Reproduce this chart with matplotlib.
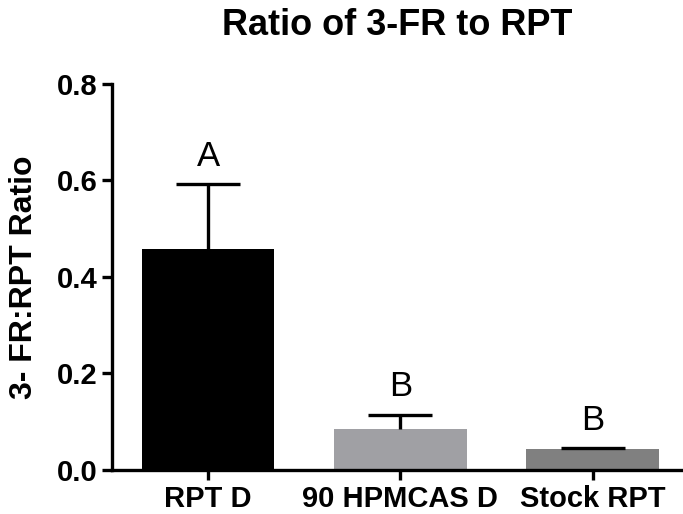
import matplotlib
matplotlib.use("Agg")
import matplotlib.pyplot as plt

plt.rcParams['font.family'] = ['Liberation Sans', 'DejaVu Sans']

# 数据
groups = ['RPT D', '90 HPMCAS D', 'Stock RPT']
ratio = [0.459, 0.085, 0.044]
err_up = [0.134, 0.030, 0.002]
letters = ['A', 'B', 'B']
colors = ['#000000', '#a0a0a4', '#808080']
y_ticks = [0.0, 0.2, 0.4, 0.6, 0.8]

fig = plt.figure(figsize=(6.83, 5.14), dpi=100)
ax = fig.add_axes([0.164, 0.0856, 0.836, 0.751])

x = list(range(len(groups)))
ax.bar(x, ratio, width=0.69, color=colors, edgecolor='none', zorder=2)
_, caps, _ = ax.errorbar(x, ratio, yerr=[[0] * len(err_up), err_up], fmt='none',
                         ecolor='black', elinewidth=2.4, capsize=23, capthick=2.4, zorder=3)
# 只保留上方的横线
caps[0].set_visible(False)

for xi, v, e, lab in zip(x, ratio, err_up, letters):
    ax.annotate(lab, (xi, v + e), xytext=(0, 8), textcoords='offset points',
                ha='center', va='bottom', fontsize=25)

ax.set_xlim(-0.5, 2.47)
ax.set_ylim(0, 0.8)
ax.set_yticks(y_ticks)
ax.set_yticklabels([f'{t:.1f}' for t in y_ticks], fontsize=21, fontweight='bold')
ax.set_xticks(x)
ax.set_xticklabels(groups, fontsize=21, fontweight='bold')
ax.set_ylabel('3- FR:RPT Ratio', fontsize=23, fontweight='bold', labelpad=13)
ax.set_title('Ratio of 3-FR to RPT', fontsize=26, fontweight='bold', pad=35)

for s in ['top', 'right']:
    ax.spines[s].set_visible(False)
for s in ['left', 'bottom']:
    ax.spines[s].set_linewidth(2.4)
ax.tick_params(width=2.4, length=7)

fig.savefig('out.png', dpi=100, facecolor='white')
